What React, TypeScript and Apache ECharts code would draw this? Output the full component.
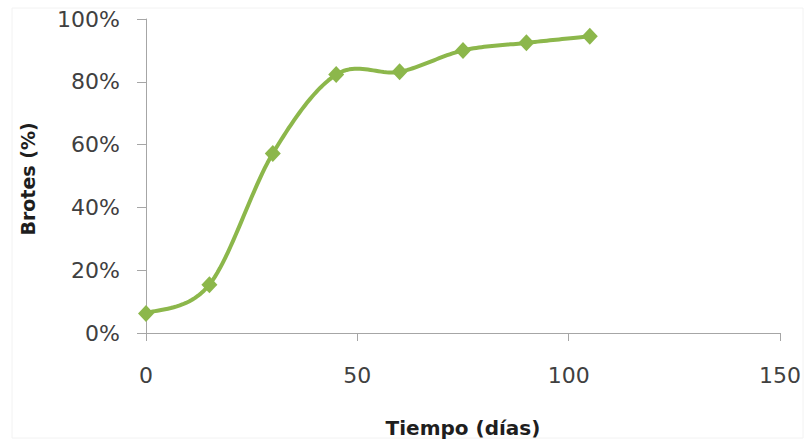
import React, { useEffect, useRef } from "react";
import * as echarts from "echarts";

// Days since planting and share of sprouted cuttings
const days = [0, 15, 30, 45, 60, 75, 90, 105];
const sprouted = [0.062, 0.154, 0.572, 0.823, 0.832, 0.9, 0.924, 0.945];
const xTicks = [0, 50, 100, 150];
const yTicks = [0, 0.2, 0.4, 0.6, 0.8, 1];

const FONT = "'DejaVu Sans', Verdana, sans-serif";
const GREEN = "#8CB74B";
const AXIS = "#A6A6A6";
const TEXT = "#404040";
const TITLE = "#1E1E1E";

// Catmull-Rom style smoothing in pixel space, sampled into a polyline
function smoothCurve(pts: number[][], steps = 24): number[][] {
  const out: number[][] = [];
  const n = pts.length;
  for (let i = 0; i < n - 1; i++) {
    const p0 = pts[Math.max(i - 1, 0)];
    const p1 = pts[i];
    const p2 = pts[i + 1];
    const p3 = pts[Math.min(i + 2, n - 1)];
    const c1 = [p1[0] + (p2[0] - p0[0]) / 6, p1[1] + (p2[1] - p0[1]) / 6];
    const c2 = [p2[0] - (p3[0] - p1[0]) / 6, p2[1] - (p3[1] - p1[1]) / 6];
    for (let s = i === 0 ? 0 : 1; s <= steps; s++) {
      const t = s / steps;
      const u = 1 - t;
      const a = u * u * u;
      const b = 3 * u * u * t;
      const c = 3 * u * t * t;
      const d = t * t * t;
      out.push([
        a * p1[0] + b * c1[0] + c * c2[0] + d * p2[0],
        a * p1[1] + b * c1[1] + c * c2[1] + d * p2[1],
      ]);
    }
  }
  return out;
}

export default function App() {
  const ref = useRef<HTMLDivElement>(null);

  useEffect(() => {
    document.body.style.margin = "0";
    if (!ref.current) return;
    const chart = echarts.init(ref.current, undefined, { renderer: "svg" });
    const points = days.map((d, i) => [d, sprouted[i]]);
    chart.setOption({
      animation: false,
      backgroundColor: "#ffffff",
      grid: { left: 146, right: 24, top: 19, bottom: 110, containLabel: false },
      graphic: [
        {
          type: "rect",
          shape: { x: 12, y: 8, width: 791, height: 430 },
          style: { fill: "none", stroke: "#F2F2F2", lineWidth: 1 },
          silent: true,
          z: -1,
        },
      ],
      xAxis: {
        type: "value",
        min: xTicks[0],
        max: xTicks[xTicks.length - 1],
        interval: 50,
        name: "Tiempo (días)",
        nameLocation: "middle",
        nameGap: 85,
        nameTextStyle: { fontFamily: FONT, fontSize: 20, fontWeight: "bold", color: TITLE },
        axisLine: { show: true, lineStyle: { color: AXIS, width: 1 } },
        axisTick: { show: true, length: 8, lineStyle: { color: AXIS } },
        axisLabel: { margin: 31, fontFamily: FONT, fontSize: 22, color: TEXT },
        splitLine: { show: false },
      },
      yAxis: {
        type: "value",
        min: yTicks[0],
        max: yTicks[yTicks.length - 1],
        interval: 0.2,
        name: "Brotes (%)",
        nameLocation: "middle",
        nameGap: 109,
        nameRotate: 90,
        nameTextStyle: {
          fontFamily: FONT,
          fontSize: 19,
          fontWeight: "bold",
          color: TITLE,
          padding: [0, 6, 0, 0],
        },
        axisLine: { show: true, lineStyle: { color: AXIS, width: 1 } },
        axisTick: { show: true, length: 9, lineStyle: { color: AXIS } },
        axisLabel: {
          margin: 26,
          fontFamily: FONT,
          fontSize: 22,
          color: TEXT,
          formatter: (v: number) => `${Math.round(v * 100)}%`,
        },
        splitLine: { show: false },
      },
      series: [
        {
          type: "custom",
          coordinateSystem: "cartesian2d",
          data: [points[0]],
          z: 2,
          renderItem: (_params: any, api: any) => {
            const px = points.map((p) => api.coord(p));
            return {
              type: "polyline",
              shape: { points: smoothCurve(px) },
              style: {
                fill: "none",
                stroke: GREEN,
                lineWidth: 4,
                lineJoin: "round",
                lineCap: "round",
              },
            };
          },
        },
        {
          type: "scatter",
          data: points,
          symbol: "diamond",
          symbolSize: [16, 17],
          itemStyle: { color: GREEN, opacity: 1 },
          z: 3,
        },
      ],
    });
    return () => chart.dispose();
  }, []);

  return <div ref={ref} style={{ width: 804, height: 443 }} />;
}
